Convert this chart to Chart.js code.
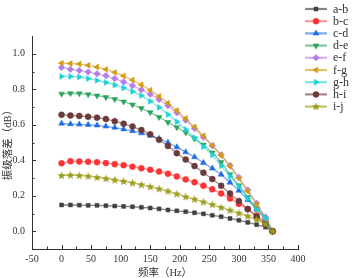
<!DOCTYPE html>
<html>
<head>
<meta charset="utf-8">
<script src="https://cdn.jsdelivr.net/npm/chart.js@4/dist/chart.umd.min.js"></script>
<style>
  body { margin: 0; background: #fff; }
  canvas { display: block; }
</style>
</head>
<body>
<canvas id="chart" width="354" height="278" style="width:354px;height:278px"></canvas>
<script>
// frequency (Hz)
const freq = [0, 15, 30, 45, 60, 75, 90, 105, 120, 135, 150, 165, 180, 195, 210, 225, 240, 255, 270, 285, 300, 315, 330, 345, 357];

// vibration level drop (dB), one array per pair
const ab = [0.148, 0.148, 0.147, 0.146, 0.146, 0.144, 0.142, 0.140, 0.138, 0.135, 0.131, 0.126, 0.120, 0.115, 0.110, 0.104, 0.098, 0.090, 0.082, 0.072, 0.062, 0.050, 0.037, 0.023, 0.0];
const bc = [0.383, 0.395, 0.393, 0.391, 0.389, 0.384, 0.378, 0.372, 0.364, 0.355, 0.346, 0.336, 0.324, 0.309, 0.292, 0.276, 0.257, 0.236, 0.213, 0.185, 0.154, 0.124, 0.089, 0.054, 0.0];
const cd = [0.607, 0.604, 0.602, 0.600, 0.597, 0.591, 0.584, 0.575, 0.565, 0.553, 0.539, 0.522, 0.500, 0.474, 0.446, 0.418, 0.386, 0.354, 0.320, 0.275, 0.229, 0.177, 0.124, 0.072, 0.0];
const de = [0.774, 0.777, 0.776, 0.771, 0.764, 0.755, 0.744, 0.730, 0.713, 0.693, 0.670, 0.643, 0.614, 0.585, 0.556, 0.522, 0.487, 0.443, 0.389, 0.320, 0.258, 0.192, 0.128, 0.068, 0.0];
const ef = [0.923, 0.912, 0.906, 0.897, 0.887, 0.876, 0.860, 0.841, 0.820, 0.797, 0.772, 0.742, 0.708, 0.668, 0.625, 0.579, 0.530, 0.481, 0.430, 0.370, 0.303, 0.232, 0.158, 0.080, 0.0];
const fg = [0.947, 0.945, 0.942, 0.935, 0.925, 0.912, 0.895, 0.875, 0.852, 0.825, 0.795, 0.760, 0.722, 0.680, 0.636, 0.588, 0.538, 0.484, 0.428, 0.366, 0.298, 0.225, 0.150, 0.070, 0.0];
const gh = [0.872, 0.872, 0.869, 0.860, 0.850, 0.838, 0.824, 0.807, 0.787, 0.764, 0.732, 0.697, 0.658, 0.617, 0.573, 0.527, 0.476, 0.430, 0.368, 0.310, 0.252, 0.185, 0.122, 0.075, 0.0];
const hi = [0.656, 0.652, 0.650, 0.645, 0.640, 0.632, 0.620, 0.606, 0.590, 0.570, 0.546, 0.515, 0.480, 0.440, 0.404, 0.367, 0.330, 0.294, 0.256, 0.213, 0.170, 0.126, 0.082, 0.038, 0.0];
const ij = [0.314, 0.316, 0.314, 0.310, 0.303, 0.297, 0.289, 0.281, 0.272, 0.262, 0.251, 0.239, 0.226, 0.210, 0.194, 0.180, 0.165, 0.150, 0.134, 0.118, 0.102, 0.085, 0.065, 0.041, 0.0];

const labels = ['a-b', 'b-c', 'c-d', 'd-e', 'e-f', 'f-g', 'g-h', 'h-i', 'i-j'];
const series = [ab, bc, cd, de, ef, fg, gh, hi, ij];
const yTicks = [0.0, 0.2, 0.4, 0.6, 0.8, 1.0];

const colors = ['#404040', '#ff3535', '#1f6de3', '#2ca35c', '#b57de8', '#d49b12', '#1fd2d6', '#6b3b3b', '#9c9c1c'];
const lineColors = ['rgba(64,64,64,0.65)', 'rgba(255,80,80,0.6)', 'rgba(31,109,227,0.6)', 'rgba(44,163,92,0.6)',
  'rgba(181,125,232,0.6)', 'rgba(212,155,18,0.6)', 'rgba(31,210,214,0.6)', 'rgba(107,59,59,0.6)', 'rgba(156,156,28,0.65)'];

// filled five point star for i-j
function makeStar(color) {
  const c = document.createElement('canvas');
  c.width = 9; c.height = 9;
  const g = c.getContext('2d');
  g.fillStyle = color;
  g.beginPath();
  for (let k = 0; k < 10; k++) {
    const r = k % 2 === 0 ? 4.3 : 1.9;
    const a = -Math.PI / 2 + k * Math.PI / 5;
    const px = 4.5 + r * Math.cos(a), py = 4.7 + r * Math.sin(a);
    if (k === 0) g.moveTo(px, py); else g.lineTo(px, py);
  }
  g.closePath();
  g.fill();
  return c;
}

const styles = [
  { s: 'rect', r: 0, rad: 2.8 },
  { s: 'circle', r: 0, rad: 3 },
  { s: 'triangle', r: 0, rad: 3.4 },
  { s: 'triangle', r: 180, rad: 3.4 },
  { s: 'rectRot', r: 0, rad: 3.3 },
  { s: 'triangle', r: 270, rad: 3.4 },
  { s: 'triangle', r: 90, rad: 3.4 },
  { s: 'circle', r: 0, rad: 3 },
  { s: makeStar(colors[8]), r: 0, rad: 4 }
];

const datasets = series.map((vals, i) => ({
  label: labels[i],
  data: vals.map((v, k) => ({ x: freq[k], y: v })),
  borderColor: lineColors[i],
  borderWidth: 1.3,
  backgroundColor: colors[i],
  pointBackgroundColor: colors[i],
  pointBorderColor: colors[i],
  pointBorderWidth: 0.5,
  pointStyle: styles[i].s,
  pointRotation: styles[i].r,
  pointRadius: styles[i].rad,
  tension: 0,
  order: -i
}));

const tickFont = { family: '"Liberation Serif", "DejaVu Serif", serif', size: 10 };
const titleFont = { family: '"Liberation Serif", "Noto Sans CJK SC", serif', size: 10.5, lineHeight: 1 };

// inward tick marks, major + minor, placed through the scales
const innerTicks = {
  id: 'innerTicks',
  afterDraw(chart) {
    const ctx = chart.ctx;
    const xs = chart.scales.x, ys = chart.scales.y;
    const area = chart.chartArea;
    ctx.save();
    ctx.strokeStyle = '#333';
    ctx.lineWidth = 1;
    ctx.beginPath();
    for (let v = -50; v <= 400; v += 25) {
      const px = Math.round(xs.getPixelForValue(v)) + 0.5;
      const len = v % 50 === 0 ? 4 : 2.5;
      ctx.moveTo(px, area.bottom);
      ctx.lineTo(px, area.bottom - len);
    }
    for (let k = 0; k <= 10; k++) {
      const v = k / 10;
      const py = Math.round(ys.getPixelForValue(v)) + 0.5;
      const len = k % 2 === 0 ? 4 : 2.5;
      ctx.moveTo(area.left, py);
      ctx.lineTo(area.left + len, py);
    }
    ctx.stroke();
    ctx.restore();
  }
};

// legend on the right: line + marker + label
const sideLegend = {
  id: 'sideLegend',
  afterDraw(chart) {
    const ctx = chart.ctx;
    chart.data.datasets.forEach((ds, i) => {
      const y = 9 + i * 12.2;
      ctx.save();
      ctx.strokeStyle = ds.borderColor;
      ctx.lineWidth = 2.2;
      ctx.beginPath();
      ctx.moveTo(305, y);
      ctx.lineTo(327, y);
      ctx.stroke();
      ctx.fillStyle = ds.pointBackgroundColor;
      ctx.strokeStyle = ds.pointBorderColor;
      ctx.lineWidth = 0.5;
      Chart.helpers.drawPoint(ctx, { pointStyle: ds.pointStyle, rotation: ds.pointRotation, radius: ds.pointRadius, borderWidth: 0.5 }, 316, y);
      ctx.fillStyle = '#333';
      ctx.font = '12px "Liberation Serif", serif';
      ctx.textBaseline = 'middle';
      ctx.fillText(ds.label, 333, y + 0.5);
      ctx.restore();
    });
  }
};

new Chart(document.getElementById('chart').getContext('2d'), {
  type: 'line',
  data: { datasets: datasets },
  options: {
    responsive: false,
    animation: false,
    devicePixelRatio: 1,
    layout: { padding: { top: 36, right: 56, left: 0, bottom: 0 } },
    plugins: { legend: { display: false }, tooltip: { enabled: false } },
    scales: {
      x: {
        type: 'linear',
        min: -50,
        max: 400,
        grid: { display: false, drawTicks: false },
        border: { display: true, color: '#333', width: 1 },
        ticks: { stepSize: 50, padding: 4, color: '#333', font: tickFont, maxRotation: 0, autoSkip: false },
        title: { display: true, text: '频率（Hz）', color: '#333', font: titleFont, padding: { top: 0, bottom: 0 } },
        afterFit: s => { s.height = 29; }
      },
      y: {
        min: -0.1,
        max: 1.1,
        grid: { display: false, drawTicks: false },
        border: { display: true, color: '#333', width: 1 },
        afterBuildTicks: s => { s.ticks = yTicks.map(v => ({ value: v })); },
        ticks: { padding: 7, color: '#333', font: tickFont, callback: v => Number(v).toFixed(1) },
        title: { display: true, text: '振级落差（dB）', color: '#333', font: titleFont, padding: { top: 3, bottom: 0 } },
        afterFit: s => { s.width = 32; }
      }
    }
  },
  plugins: [innerTicks, sideLegend]
});
</script>
</body>
</html>
